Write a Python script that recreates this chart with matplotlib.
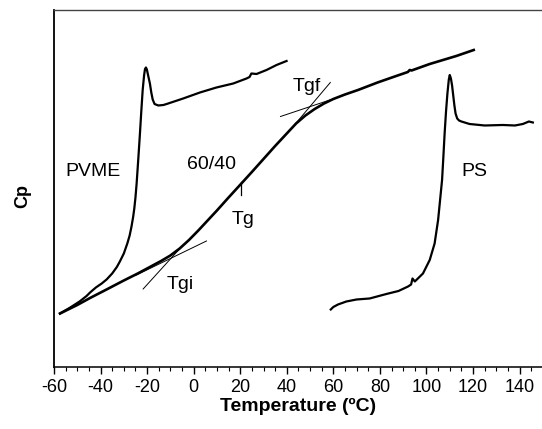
import matplotlib
matplotlib.use("Agg")
import matplotlib.pyplot as plt
from matplotlib.ticker import MultipleLocator

plt.rcParams['font.family'] = ['Liberation Sans', 'DejaVu Sans']
plt.rcParams['axes.unicode_minus'] = False

# DSC traces (Cp in arbitrary units)
pvme_T = [-57.4, -53.0, -49.0, -46.0, -44.5, -42.0, -39.5, -37.4, -35.0, -33.0,
          -31.7, -30.0, -28.5, -27.5, -26.7, -26.0, -25.5, -25.0, -24.5, -23.8,
          -23.1, -22.5, -21.9, -21.3, -20.9, -20.5, -20.1, -19.6, -18.8, -18.2,
          -17.6, -16.8, -15.2, -13.0, -11.6, -4.5, 2.7, 9.8, 17.0, 22.7,
          24.0, 24.8, 27.0, 31.3, 35.6, 39.9]
pvme_Cp = [54, 60, 66, 71.5, 75, 80, 84, 88, 94, 100.5,
           106, 114, 124, 132, 141, 150.5, 159, 170, 184, 208,
           233, 256, 277.5, 292, 298.5, 300, 298, 292.5, 284, 275,
           268, 263.5, 262, 262.5, 263.5, 269, 275, 280, 284, 289,
           290.5, 294, 293.5, 297.5, 302.5, 306.5]

blend_T = [-57.4, -50.0, -44.5, -37.0, -30.0, -24.0, -18.8, -14.0, -10.0, -6.0,
           -2.0, 2.0, 6.0, 10.0, 15.0, 20.5, 25.0, 30.0, 35.0, 40.0,
           44.0, 48.0, 52.0, 56.0, 60.0, 65.0, 70.6, 79.0, 87.0, 92.0,
           92.8, 93.6, 101.4, 112.8, 120.3]
blend_Cp = [54, 62.5, 69.5, 78.5, 87, 94, 100.5, 106.5, 112, 119,
            127.5, 137, 147, 157, 170, 184, 195.5, 208.5, 221.5, 234,
            244, 252, 258.5, 264, 268.5, 273, 277.5, 285, 291.5, 295.5,
            297.5, 297, 303.5, 311.5, 317.5]

ps_T = [58.9, 60.0, 62.0, 65.6, 70.0, 75.6, 82.8, 88.0, 92.1, 93.4,
        94.0, 95.0, 98.5, 101.4, 103.5, 105.0, 106.0, 106.7, 107.2, 107.8,
        108.4, 109.0, 109.6, 110.0, 110.5, 111.0, 111.4, 112.0, 112.5, 113.2,
        114.0, 115.0, 118.5, 125.0, 132.8, 138.0, 141.4, 144.0, 145.7]
ps_Cp = [58, 60.5, 63, 66, 68, 69, 73.5, 76.5, 81, 83,
         89, 86, 94, 107.5, 124, 147.5, 171, 187.5, 208, 234,
         256, 274, 288, 292.5, 289, 282, 274, 262, 254, 249,
         247, 246, 243.5, 242, 242.5, 242, 243.5, 246, 245]

# onset / end-set tangent constructions
tgi_steep_T = [-21.7, -5.9]
tgi_steep_Cp = [78.5, 119]
tgi_flat_T = [-25.0, 5.5]
tgi_flat_Cp = [92, 126.5]
tgf_steep_T = [42.0, 58.7]
tgf_steep_Cp = [239, 285]
tgf_flat_T = [37.3, 58.5]
tgf_flat_Cp = [251, 267.5]

tg_T = 20.5
tg_Cp = [172.5, 185]

labels = [("PVME", -43.1, 196), ("60/40", 7.7, 202.5), ("PS", 120.7, 196),
          ("Tg", 21.2, 147.5), ("Tgi", -5.9, 82.5), ("Tgf", 48.5, 281)]

fig = plt.figure(figsize=(5.42, 4.29), dpi=100)
ax = fig.add_axes([0.0996, 0.1434, 0.902, 0.8333])

ax.plot(pvme_T, pvme_Cp, color='black', lw=1.6, solid_joinstyle='round')
ax.plot(blend_T, blend_Cp, color='black', lw=1.9, solid_joinstyle='round')
ax.plot(ps_T, ps_Cp, color='black', lw=1.6, solid_joinstyle='round')

for xs, ys in [(tgi_steep_T, tgi_steep_Cp), (tgi_flat_T, tgi_flat_Cp),
               (tgf_steep_T, tgf_steep_Cp), (tgf_flat_T, tgf_flat_Cp)]:
    ax.plot(xs, ys, color='black', lw=0.7)
ax.plot([tg_T, tg_T], tg_Cp, color='black', lw=0.9)

for txt, x, y in labels:
    ax.text(x, y, txt, ha='center', va='center', fontsize=14)

ax.set_xlim(-60, 150)
ax.set_ylim(0, 357.5)
ax.xaxis.set_major_locator(MultipleLocator(20))
ax.xaxis.set_minor_locator(MultipleLocator(5))
ax.set_yticks([])
ax.tick_params(axis='x', which='major', direction='out', length=5, width=1,
               labelsize=13, pad=3)
ax.tick_params(axis='x', which='minor', direction='out', length=3, width=0.8)
ax.spines['right'].set_visible(False)
ax.spines['left'].set_linewidth(1.3)
ax.spines['bottom'].set_linewidth(1.1)
ax.spines['top'].set_linewidth(1.0)
ax.spines['top'].set_color('#444444')

ax.set_xlabel('Temperature (ºC)', fontsize=14, fontweight='bold', labelpad=2)
ax.set_ylabel('Cp', fontsize=13, fontweight='bold')
ax.yaxis.set_label_coords(-0.047, 0.48)

fig.savefig('out.png', dpi=100)
